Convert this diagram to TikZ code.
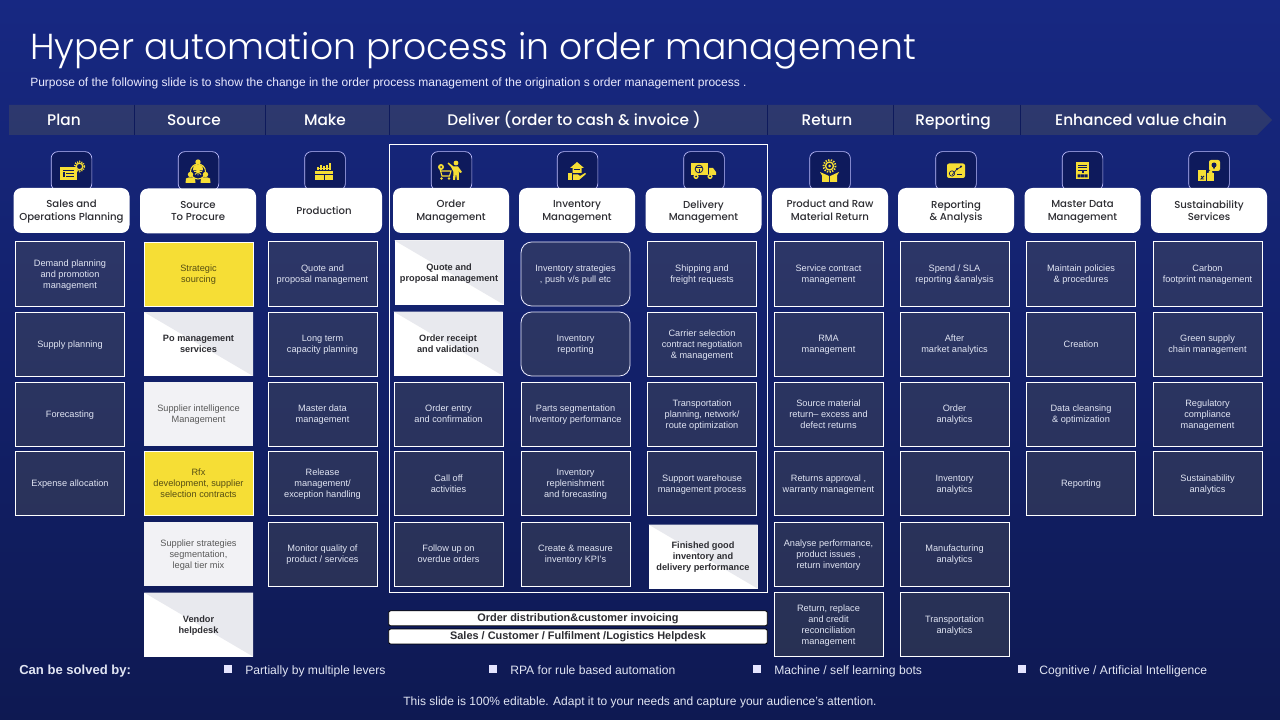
\documentclass[tikz,border=0pt]{standalone}
\usepackage{fontspec}
\setmainfont{Liberation Sans}
\newfontfamily\headf{Poppins Medium}
\newfontfamily\titlef{Poppins Light}
\usetikzlibrary{shapes.misc}
\definecolor{bgtop}{RGB}{23,40,130}
\definecolor{bgbot}{RGB}{14,25,82}
\definecolor{cellc}{RGB}{100,100,80}
\definecolor{cellink}{RGB}{225,229,243}
\definecolor{ylw}{RGB}{246,222,53}
\definecolor{tilec}{RGB}{14,26,92}
\definecolor{diagc}{RGB}{232,233,238}
\definecolor{lightc}{RGB}{242,242,245}
\definecolor{cardink}{RGB}{45,45,50}
\tikzset{
  x=0.75pt,y=-0.75pt,
  cellfont/.style={font=\fontsize{6.9}{8.25}\selectfont,align=center,inner sep=0pt,text depth=0pt},
  cellbase/.style={cellfont,minimum width=81.75pt,minimum height=48pt},
  navycell/.style={cellbase,draw=white,line width=.75pt,fill=cellc,fill opacity=.3,draw opacity=1,text opacity=1,text=cellink},
  roundcell/.style={navycell,rounded corners=8pt,draw=white!92!blue,line width=.6pt},
  yellowcell/.style={cellbase,fill=ylw,draw=white,line width=.6pt,text=black!65!ylw},
  lightcell/.style={cellbase,fill=lightc,text=black!65},
  diagcell/.style={cellbase,fill=white,text=cardink,font=\fontsize{6.9}{8.25}\selectfont\bfseries,
    path picture={\fill[diagc] (path picture bounding box.north west)--(path picture bounding box.north east)--(path picture bounding box.south east)--cycle;}},
  card/.style={fill=white,rounded corners=6pt,minimum width=87pt,minimum height=33.75pt,inner sep=0pt,align=center,text=cardink,
    font=\headf\fontsize{7.6}{9.6}\selectfont,text depth=0pt},
  tile/.style={fill=tilec,draw=white!75!blue,line width=.5pt,rounded corners=5pt,minimum width=30.5pt,minimum height=29pt,inner sep=0pt},
  bandlabel/.style={text=white,inner sep=0pt,anchor=base,font=\headf\fontsize{11.5}{14}\selectfont},
  barnode/.style={fill=white,draw=black,line width=.6pt,rounded corners=1.5pt,minimum width=284pt,minimum height=11.2pt,inner sep=0pt,
    text=cardink,font=\fontsize{8.2}{9}\selectfont\bfseries},
  legendtext/.style={text=cellink,anchor=base west,inner sep=0pt,font=\fontsize{9.1}{11}\selectfont},
  legendmark/.style={fill=white!90!blue,minimum size=5.4pt,inner sep=0pt},
  icn/.style={fill=ylw,draw=none},
  icd/.style={draw=tilec,line width=.45pt},
}
\begin{document}
\begin{tikzpicture}
\useasboundingbox (0,0) rectangle (1280,720);
\shade[top color=bgtop,middle color=bgtop!92!bgbot,bottom color=bgbot] (0,0) rectangle (1280,720);
% title
\node[anchor=base west,inner sep=0pt,text=white,font=\titlef\fontsize{27.1}{32}\selectfont] (title) at (30,60) {Hyper automation process in order management};
\node[anchor=base west,inner sep=0pt,text=white!92!blue,font=\fontsize{9}{10}\selectfont] (subtitle) at (30,87) {Purpose of the following slide is to show the change in the order process management of the origination s order management process .};
% band
\fill[cellc,fill opacity=.3] (9,105)--(1257,105)--(1272,120)--(1257,135)--(9,135)--cycle;
\foreach \q in {134,265,389,767,893,1020}{\draw[tilec,line width=.6pt] (\q,105)--(\q,135);}
\node[bandlabel] (bplan) at (64,125.5) {Plan};
\node[bandlabel] (bsource) at (194,125.5) {Source};
\node[bandlabel] (bmake) at (325,125.5) {Make};
\node[bandlabel] (bdeliver) at (574,125.5) {Deliver (order to cash \& invoice )};
\node[bandlabel] (breturn) at (827,125.5) {Return};
\node[bandlabel] (breport) at (953,125.5) {Reporting};
\node[bandlabel] (benh) at (1141,125.5) {Enhanced value chain};
% deliver frame
\node[draw=white,line width=.6pt,minimum width=283.5pt,minimum height=336pt,inner sep=0pt] (frame) at (578,368) {};
% tiles
\foreach \n/\q in {a/71.5,b/198.5,c/325,d/451.5,e/577.5,f/704,g/830,h/956,i/1082.5,j/1209}{
  \node[tile] (tile\n) at (\q,171) {};
}
% cards
\node[card] (carda) at (71.5,210.5) {Sales and\\Operations Planning};
\node[card] (cardb) at (198,211) {Source\\To Procure};
\node[card] (cardc) at (324,210.5) {Production};
\node[card] (cardd) at (451,210.5) {Order\\Management};
\node[card] (carde) at (577,210.5) {Inventory\\Management};
\node[card] (cardf) at (703.5,210.5) {Delivery\\Management};
\node[card] (cardg) at (830,210.5) {Product and Raw\\Material Return};
\node[card] (cardh) at (956,210.5) {Reporting\\\& Analysis};
\node[card] (cardi) at (1082.5,210.5) {Master Data\\Management};
\node[card] (cardj) at (1209,210.5) {Sustainability\\Services};
% column a
\node[navycell] (a1) at (70,274) {Demand planning\\and promotion\\management};
\node[navycell] (a2) at (70,344) {Supply planning};
\node[navycell] (a3) at (70,414) {Forecasting};
\node[navycell] (a4) at (70,483.5) {Expense allocation};
% column b
\node[yellowcell] (b1) at (198.5,274) {Strategic\\sourcing};
\node[diagcell] (b2) at (198.5,344) {Po management\\services};
\node[lightcell] (b3) at (198.5,414) {Supplier intelligence\\Management};
\node[yellowcell] (b4) at (198.5,483.5) {Rfx\\development, supplier\\selection contracts};
\node[lightcell] (b5) at (198.5,554) {Supplier strategies\\segmentation,\\legal tier mix};
\node[diagcell] (b6) at (198.5,624.5) {Vendor\\helpdesk};
% column c
\node[navycell] (c1) at (322.5,274) {Quote and\\proposal management};
\node[navycell] (c2) at (322.5,344) {Long term\\capacity planning};
\node[navycell] (c3) at (322.5,414) {Master data\\management};
\node[navycell] (c4) at (322.5,483.5) {Release\\management/\\exception handling};
\node[navycell] (c5) at (322.5,554) {Monitor quality of\\product / services};
% column d
\node[diagcell] (d1) at (449,272.5) {Quote and\\proposal management};
\node[diagcell] (d2) at (448,343.5) {Order receipt\\and validation};
\node[navycell] (d3) at (448.5,414) {Order entry\\and confirmation};
\node[navycell] (d4) at (448.5,483.5) {Call off\\activities};
\node[navycell] (d5) at (448.5,554) {Follow up on\\overdue orders};
% column e
\node[roundcell] (e1) at (575.5,274) {Inventory strategies\\, push v/s pull etc};
\node[roundcell] (e2) at (575.5,344) {Inventory\\reporting};
\node[navycell] (e3) at (575.5,414) {Parts segmentation\\Inventory performance};
\node[navycell] (e4) at (575.5,483.5) {Inventory\\replenishment\\and forecasting};
\node[navycell] (e5) at (575.5,554) {Create \& measure\\inventory KPI’s};
% column f
\node[navycell] (f1) at (702,274) {Shipping and\\freight requests};
\node[navycell] (f2) at (702,344) {Carrier selection\\contract negotiation\\\& management};
\node[navycell] (f3) at (702,414) {Transportation\\planning, network/\\route optimization};
\node[navycell] (f4) at (702,483.5) {Support warehouse\\management process};
\node[diagcell] (f5) at (703,556.5) {Finished good\\inventory and\\delivery performance};
% column g
\node[navycell] (g1) at (828.5,274) {Service contract\\management};
\node[navycell] (g2) at (828.5,344) {RMA\\management};
\node[navycell] (g3) at (828.5,414) {Source material\\return– excess and\\defect returns};
\node[navycell] (g4) at (828.5,483.5) {Returns approval ,\\warranty management};
\node[navycell] (g5) at (828.5,554) {Analyse performance,\\product issues ,\\return inventory};
\node[navycell] (g6) at (828.5,624.5) {Return, replace\\and credit\\reconciliation\\management};
% column h
\node[navycell] (h1) at (954.5,274) {Spend / SLA\\reporting \&analysis};
\node[navycell] (h2) at (954.5,344) {After\\market analytics};
\node[navycell] (h3) at (954.5,414) {Order\\analytics};
\node[navycell] (h4) at (954.5,483.5) {Inventory\\analytics};
\node[navycell] (h5) at (954.5,554) {Manufacturing\\analytics};
\node[navycell] (h6) at (954.5,624.5) {Transportation\\analytics};
% column i
\node[navycell] (i1) at (1081,274) {Maintain policies\\\& procedures};
\node[navycell] (i2) at (1081,344) {Creation};
\node[navycell] (i3) at (1081,414) {Data cleansing\\\& optimization};
\node[navycell] (i4) at (1081,483.5) {Reporting};
% column j
\node[navycell] (j1) at (1207.5,274) {Carbon\\footprint management};
\node[navycell] (j2) at (1207.5,344) {Green supply\\chain management};
\node[navycell] (j3) at (1207.5,414) {Regulatory\\compliance\\management};
\node[navycell] (j4) at (1207.5,483.5) {Sustainability\\analytics};
% bars
\node[barnode] (bar1) at (578,618.3) {Order distribution\&customer invoicing};
\node[barnode] (bar2) at (578,636.5) {Sales / Customer / Fulfilment /Logistics Helpdesk};
% legend
\node[legendtext,font=\fontsize{9.8}{11}\selectfont\bfseries] (solved) at (19,674) {Can be solved by:};
\node[legendmark] (m1) at (228,669) {};
\node[legendtext] (l1) at (245,674) {Partially by multiple levers};
\node[legendmark] (m2) at (493,669) {};
\node[legendtext] (l2) at (510,674) {RPA for rule based automation};
\node[legendmark] (m3) at (757,669) {};
\node[legendtext] (l3) at (774,674) {Machine / self learning bots};
\node[legendmark] (m4) at (1022,669) {};
\node[legendtext] (l4) at (1039,674) {Cognitive / Artificial Intelligence};
\node[anchor=base,text=cellink,inner sep=0pt,font=\fontsize{9}{11}\selectfont] (foot) at (640,705) {This slide is 100\% editable. Adapt it to your needs and capture your audience's attention.};
% icon a: document and gear
\fill[icn] (60,167) rectangle (77,180);
\draw[icd] (63,170)--(74,170) (66,173)--(74,173) (66,176)--(74,176);
\fill[tilec] (62.5,172.5) rectangle (64.5,177.5);
\draw[ylw,line width=1pt] (79.5,166.5) circle (3.3);
\draw[ylw,line width=1.2pt,dash pattern=on .8pt off .9pt] (79.5,166.5) circle (5);
% icon b: three people
\draw[ylw,line width=.8pt] (198,171.5) circle (7.5);
\fill[tilec] (198,171.5) circle (5.5);
\draw[ylw,line width=.6pt] (194,171.5)--(202,171.5) (198,167.5)--(198,175.5) (195,168.5)--(201,174.5) (201,168.5)--(195,174.5);
\foreach \a/\b in {198/162,190.5/174.5,205.5/174.5}{
  \fill[icn] (\a,\b) circle (2.7);
  \fill[icn] (\a-5,\b+8.5) -- (\a-4.5,\b+4) -- (\a-2,\b+3) -- (\a+2,\b+3) -- (\a+4.5,\b+4) -- (\a+5,\b+8.5) -- cycle;
}
% icon c: box with bars
\fill[icn] (315,171) rectangle (333,180);
\draw[icd] (315,174.5)--(333,174.5) (324,174.5)--(324,180);
\foreach \a/\h in {318/167,321/165,324/166,327/165,330/163}{\draw[ylw,line width=1pt] (\a,170.5)--(\a,\h);}
\draw[ylw,line width=.7pt] (317,168)--(331,168);
% icon d: cart and person
\fill[icn] (456,163) circle (2.4);
\fill[icn] (453.5,166.5)--(458,166.5)--(462,172)--(460,173)--(458.7,171)--(459,180)--(457,180)--(456,173.5)--(455,180)--(453,180)--(453.5,172)--(451,167)--(447.5,163.5)--(448.5,162.5)--cycle;
\fill[icn] (441,167) circle (3);
\fill[tilec] (441,167) circle (1);
\draw[ylw,line width=.8pt] (440,171) -- (451,171) -- (449.5,176) -- (442,176) -- (440,169);
\fill[icn] (441.5,178.5) circle (1.4) (449,178.5) circle (1.4);
% icon e: hand with package
\fill[icn] (577,162)--(584,168)--(581.5,168)--(581.5,173)--(572.5,173)--(572.5,168)--(570,168)--cycle;
\draw[icd] (574,169)--(580,169);
\fill[icn] (568,173.5) rectangle (572,180);
\fill[icn] (573,174.5)--(578,174.5)--(580,176)--(585,173)--(586,174)--(579,180)--(573,180)--cycle;
% icon f: truck
\fill[icn] (691,163) rectangle (708,175);
\fill[icn] (709,168)--(713,168)--(716,172)--(716,175)--(709,175)--cycle;
\fill[tilec] (699,169) circle (4.3);
\fill[icn] (699,169) circle (3.3);
\draw[icd] (699,169)--(699,173) (696,167.5)--(702,167.5);
\foreach \a in {696,710}{\fill[icn] (\a,176.5) circle (2.6); \fill[tilec] (\a,176.5) circle (1);}
% icon g: gear on box
\draw[ylw,line width=1pt] (829.5,166) circle (4);
\draw[ylw,line width=1.4pt,dash pattern=on 1pt off 1pt] (829.5,166) circle (6);
\fill[icn] (829.5,166) circle (1.5);
\fill[icn] (820,172)--(829,176)--(829,182)--(822,182)--(822,175.5)--cycle;
\fill[icn] (839,172)--(830.2,176)--(830.2,182)--(837,182)--(837,175.5)--cycle;
% icon h: chart tile
\fill[icn,rounded corners=1.5pt] (947,163.5) rectangle (965,178);
\draw[tilec,line width=.5pt] (952,175)--(957,169)--(961,167);
\draw[tilec,line width=.5pt] (952,173.5) circle (2.7);
\fill[tilec] (957,169) circle (1.1) (961,166.5) circle (1.1);
\draw[tilec,line width=.6pt] (957,174)--(962,174);
% icon i: document with hierarchy
\fill[icn] (1076,162) rectangle (1089,179);
\draw[icd] (1078,165)--(1087,165) (1078,167.5)--(1087,167.5) (1078,170)--(1087,170);
\fill[tilec] (1081.5,171.5) rectangle (1083.5,173);
\fill[tilec] (1077.5,174.5) rectangle (1080.5,177.5) (1081,174.5) rectangle (1084,177.5) (1084.5,174.5) rectangle (1087.5,177.5);
% icon j: puzzle pieces
\fill[icn] (1198,170) rectangle (1206,181);
\fill[icn] (1207,173) rectangle (1214,181);
\fill[icn] (1210.5,172.5) circle (2);
\draw[tilec,line width=.6pt] (1201,176) arc (180:0:1.5) -- (1201,179) -- (1204,179);
\fill[icn,rounded corners=1.5pt] (1209,160) rectangle (1220,171);
\fill[tilec] (1214,165) circle (2.5);
\fill[tilec] (1212.5,166) -- (1215.5,166) -- (1214,169.5) -- cycle;
\end{tikzpicture}
\end{document}
